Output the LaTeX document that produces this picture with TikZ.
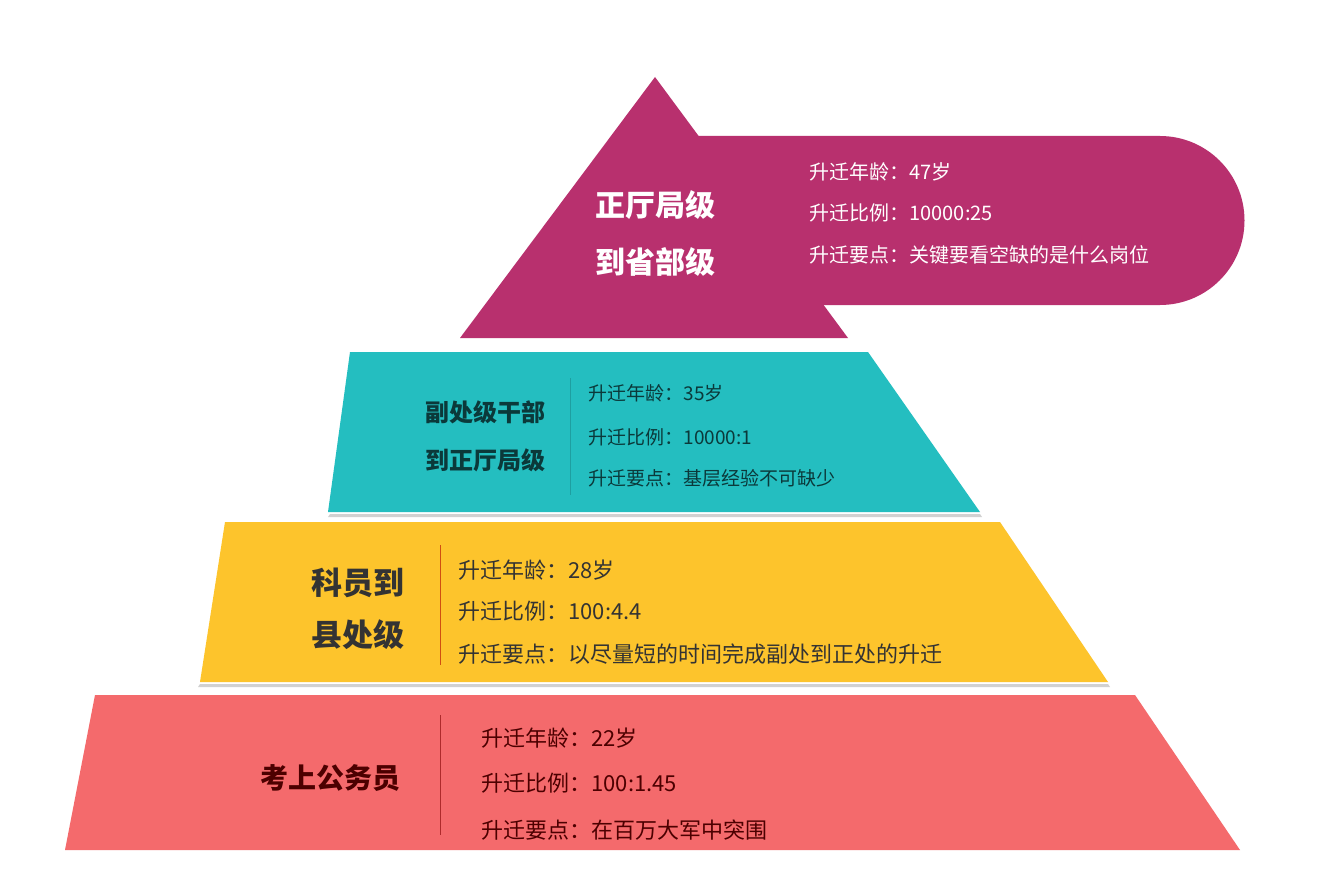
\documentclass[tikz,border=0pt]{standalone}
\usepackage{fontspec}
\newfontfamily\cjk{Noto Sans CJK SC}
\definecolor{mag}{HTML}{B8306E}
\definecolor{teal2}{HTML}{24BEC0}
\definecolor{yel}{HTML}{FDC42C}
\definecolor{redb}{HTML}{F46A6C}
\begin{document}
\begin{tikzpicture}[x=1pt,y=-1pt,
  ttl/.style={font=\cjk\bfseries\fontsize{#1}{#1}\selectfont},
  ln/.style={anchor=west,font=\cjk\fontsize{#1}{#1}\selectfont},
  shd/.style={fill=black!18}]
\useasboundingbox[fill=white] (0,0) rectangle (1338,888);
% magenta
\fill[mag] (680,136) -- (1160,136) arc[start angle=-90,end angle=90,radius=84.5] -- (680,305) -- cycle;
\fill[mag] (655,77) -- (848,338) -- (460,338) -- cycle;
% teal
\fill[shd] (330,514) -- (980,514) -- (982,517) -- (328,517) -- cycle;
\fill[teal2] (350,352) -- (868,352) -- (980,512) -- (328,512) -- cycle;
\draw[teal2!60!black,opacity=.4] (570,378) -- (570,495);
% yellow
\fill[shd] (200,684) -- (1108,684) -- (1110,687) -- (198,687) -- cycle;
\fill[yel] (225,522) -- (1000,522) -- (1108,682) -- (200,682) -- cycle;
\draw[red!70!black,opacity=.6] (440,545) -- (440,665);
% red
\fill[redb] (95,695) -- (1135,695) -- (1240,850) -- (65,850) -- cycle;
\draw[red!50!black,opacity=.6] (440,715) -- (440,835);
% texts
\node[ttl=30,white] (t1) at (655,205) {正厅局级};
\node[ttl=30,white] (t2) at (655,262) {到省部级};
\node[ln=20,white] (a1) at (806,172) {升迁年龄：47岁};
\node[ln=20,white] (a2) at (806,213) {升迁比例：10000:25};
\node[ln=20,white] (a3) at (806,255) {升迁要点：关键要看空缺的是什么岗位};
\begin{scope}[color=teal2!30!black]
\node[ttl=24] (b0) at (485,412) {副处级干部};
\node[ttl=24] (b1) at (485,460) {到正厅局级};
\node[ln=19] (b2) at (585,393) {升迁年龄：35岁};
\node[ln=19] (b3) at (585,437) {升迁比例：10000:1};
\node[ln=19] (b4) at (585,478) {升迁要点：基层经验不可缺少};
\end{scope}
\begin{scope}[color=black!80]
\node[ttl=31] (c0) at (358,583) {科员到};
\node[ttl=31] (c1) at (358,635) {县处级};
\node[ln=22] (c2) at (455,570) {升迁年龄：28岁};
\node[ln=22] (c3) at (455,611) {升迁比例：100:4.4};
\node[ln=22] (c4) at (455,654) {升迁要点：以尽量短的时间完成副处到正处的升迁};
\end{scope}
\begin{scope}[color=red!30!black]
\node[ttl=28] (d0) at (330,778) {考上公务员};
\node[ln=22] (d1) at (478,738) {升迁年龄：22岁};
\node[ln=22] (d2) at (478,783) {升迁比例：100:1.45};
\node[ln=22] (d3) at (478,830) {升迁要点：在百万大军中突围};
\end{scope}
\end{tikzpicture}
\end{document}
